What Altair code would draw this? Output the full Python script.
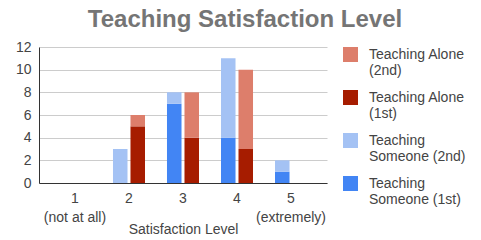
import json
import altair as alt
import pandas as pd

levels = ["1", "2", "3", "4", "5"]
someone_1st = [0, 0, 7, 4, 1]
someone_2nd = [0, 3, 1, 7, 1]
alone_1st = [0, 5, 4, 3, 0]
alone_2nd = [0, 1, 4, 7, 0]

groups = ["Teaching Someone", "Teaching Alone"]
series_names = ["Teaching Alone (2nd)", "Teaching Alone (1st)",
                "Teaching Someone (2nd)", "Teaching Someone (1st)"]
series_lines = [["Teaching Alone", "(2nd)"], ["Teaching Alone", "(1st)"],
                ["Teaching", "Someone (2nd)"], ["Teaching", "Someone (1st)"]]
series_colors = ["#dd7e6b", "#a61c00", "#a4c2f4", "#4285f4"]
x_label_lines = {"1": ["1", "(not at all)"], "2": ["2"], "3": ["3"], "4": ["4"],
                 "5": ["5", "(extremely)"]}

rows = []
for i, lv in enumerate(levels):
    rows.append({"level": lv, "group": groups[0], "series": series_names[3], "rank": 0, "value": someone_1st[i]})
    rows.append({"level": lv, "group": groups[0], "series": series_names[2], "rank": 1, "value": someone_2nd[i]})
    rows.append({"level": lv, "group": groups[1], "series": series_names[1], "rank": 0, "value": alone_1st[i]})
    rows.append({"level": lv, "group": groups[1], "series": series_names[0], "rank": 1, "value": alone_2nd[i]})
df = pd.DataFrame(rows)

legend_expr = json.dumps(dict(zip(series_names, series_lines))) + "[datum.label]"
xlab_expr = json.dumps(x_label_lines) + "[datum.label]"

FONT = "Liberation Sans"

chart = alt.Chart(df).mark_bar().encode(
    x=alt.X("level:N", sort=levels,
            scale=alt.Scale(paddingInner=0.407, paddingOuter=0.37),
            axis=alt.Axis(title="Satisfaction Level", labelAngle=0, ticks=False,
                          labelExpr=xlab_expr, labelLineHeight=19, labelPadding=8,
                          labelFontSize=14, labelColor="#444444", labelFont=FONT,
                          titleFont=FONT, titleFontSize=14, titleFontWeight="normal",
                          titleColor="#444444", titleY=46, titleBaseline="middle",
                          domainColor="#333333", grid=False)),
    xOffset=alt.XOffset("group:N", sort=groups, scale=alt.Scale(paddingInner=0.17)),
    y=alt.Y("value:Q", stack="zero",
            scale=alt.Scale(domain=[0, 12], nice=False),
            axis=alt.Axis(title=None, values=[0, 2, 4, 6, 8, 10, 12], ticks=False,
                          labelFontSize=14, labelColor="#444444", labelFont=FONT,
                          labelPadding=8, domainColor="#333333",
                          gridColor="#cccccc")),
    color=alt.Color("series:N",
                    scale=alt.Scale(domain=series_names, range=series_colors),
                    legend=alt.Legend(title=None, orient="none", legendX=304, legendY=0,
                                      symbolType="square", symbolSize=225,
                                      symbolStrokeWidth=0, labelFont=FONT,
                                      labelFontSize=14, labelColor="#444444",
                                      labelOffset=11, labelLimit=200,
                                      labelExpr=legend_expr,
                                      rowPadding=12, padding=0)),
    order=alt.Order("rank:Q", sort="ascending"),
).properties(
    width=288, height=136,
    title=alt.TitleParams("Teaching Satisfaction Level", font=FONT, fontSize=24,
                          fontWeight="bold", color="#757575", anchor="middle",
                          dx=62, offset=8),
    autosize=alt.AutoSizeParams(type="none"),
    padding={"left": 31, "top": 39, "right": 146, "bottom": 53},
).configure_view(stroke=None)

chart.save("out.html", embed_options={"renderer": "svg", "actions": False})
